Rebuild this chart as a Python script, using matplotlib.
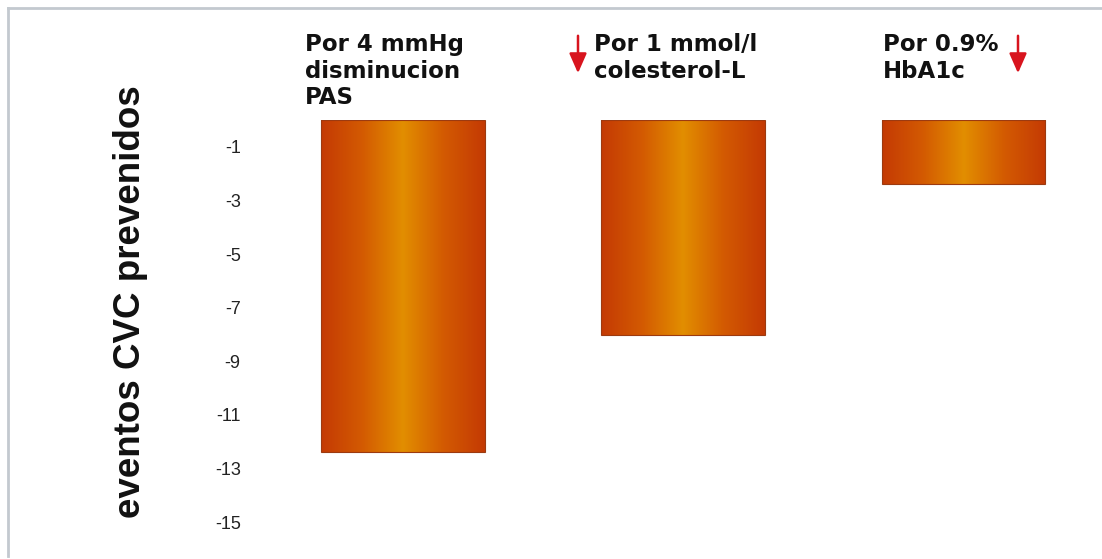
import numpy as np
import matplotlib
matplotlib.use("Agg")
import matplotlib.pyplot as plt
from matplotlib.colors import LinearSegmentedColormap
from matplotlib.lines import Line2D
from matplotlib.patches import FancyArrowPatch

# Data
categories = ["Por 4 mmHg\ndisminucion\nPAS", "Por 1 mmol/l\ncolesterol-L", "Por 0.9%\nHbA1c"]
values = [-12.4, -8.0, -2.4]
yticks = [-1, -3, -5, -7, -9, -11, -13, -15]
ylabel = "eventos CVC prevenidos"

W, H = 1102, 559
fig = plt.figure(figsize=(W / 100, H / 100), dpi=100)
fig.patch.set_facecolor("white")

def fx(px):
    return px / W

def fy(py):
    return 1 - py / H

# frame lines around the panel
fig.add_artist(Line2D([fx(8), fx(1102)], [fy(8), fy(8)], color="#c3c9cf", lw=2.0))
fig.add_artist(Line2D([fx(8), fx(8)], [fy(8), fy(556)], color="#c3c9cf", lw=2.0))

ax_left, ax_right = 249, 1075.6
ax_top, ax_bot = 120.2, 543.5
ax = fig.add_axes([fx(ax_left), fy(ax_bot), (ax_right - ax_left) / W, (ax_bot - ax_top) / H])
ax.set_facecolor("none")

x = np.arange(len(values))
bars = ax.bar(x, values, width=0.585, color="none", edgecolor="#9c3a10", linewidth=0.8, zorder=3)

cmap = LinearSegmentedColormap.from_list(
    "bar_grad", ["#c43a04", "#d35a02", "#e28e00", "#d35a02", "#c43a04"])
grad = np.linspace(0, 1, 256).reshape(1, -1)
for rect in bars:
    x0, w = rect.get_x(), rect.get_width()
    y0, h = rect.get_y(), rect.get_height()
    im = ax.imshow(grad, cmap=cmap, aspect="auto", interpolation="bicubic",
                   extent=[x0, x0 + w, y0 + h, y0], zorder=2)
    im.set_clip_path(rect)

ax.set_xlim(-0.55, 2.4)
ax.set_ylim(-15.8, 0)
ax.set_yticks(yticks)
ax.set_yticklabels([str(t) for t in yticks], family="Liberation Sans", fontsize=13, color="#222222")
ax.set_xticks([])
ax.tick_params(axis="y", length=0, pad=6)
for s in ax.spines.values():
    s.set_visible(False)

fig.text(fx(130), fy(302), ylabel, rotation=90, ha="center", va="center",
         family="Liberation Sans", fontweight="bold", fontsize=26.5, color="#111111")

# category headers above the bars
label_px = [(305, 33), (594, 33), (883, 33)]
for (px, py), lab in zip(label_px, categories):
    fig.text(fx(px), fy(py), lab, ha="left", va="top", family="DejaVu Sans",
             fontweight="bold", fontsize=16.5, color="#111111", linespacing=1.2)

# red down arrows
for ax_px in (578, 1018):
    fig.add_artist(FancyArrowPatch(
        (fx(ax_px), fy(33)), (fx(ax_px), fy(76)), transform=fig.transFigure,
        arrowstyle="-|>,head_length=5,head_width=2.2", color="#d8141e", lw=1.8,
        mutation_scale=2.4))

fig.savefig("out.png", dpi=100)
